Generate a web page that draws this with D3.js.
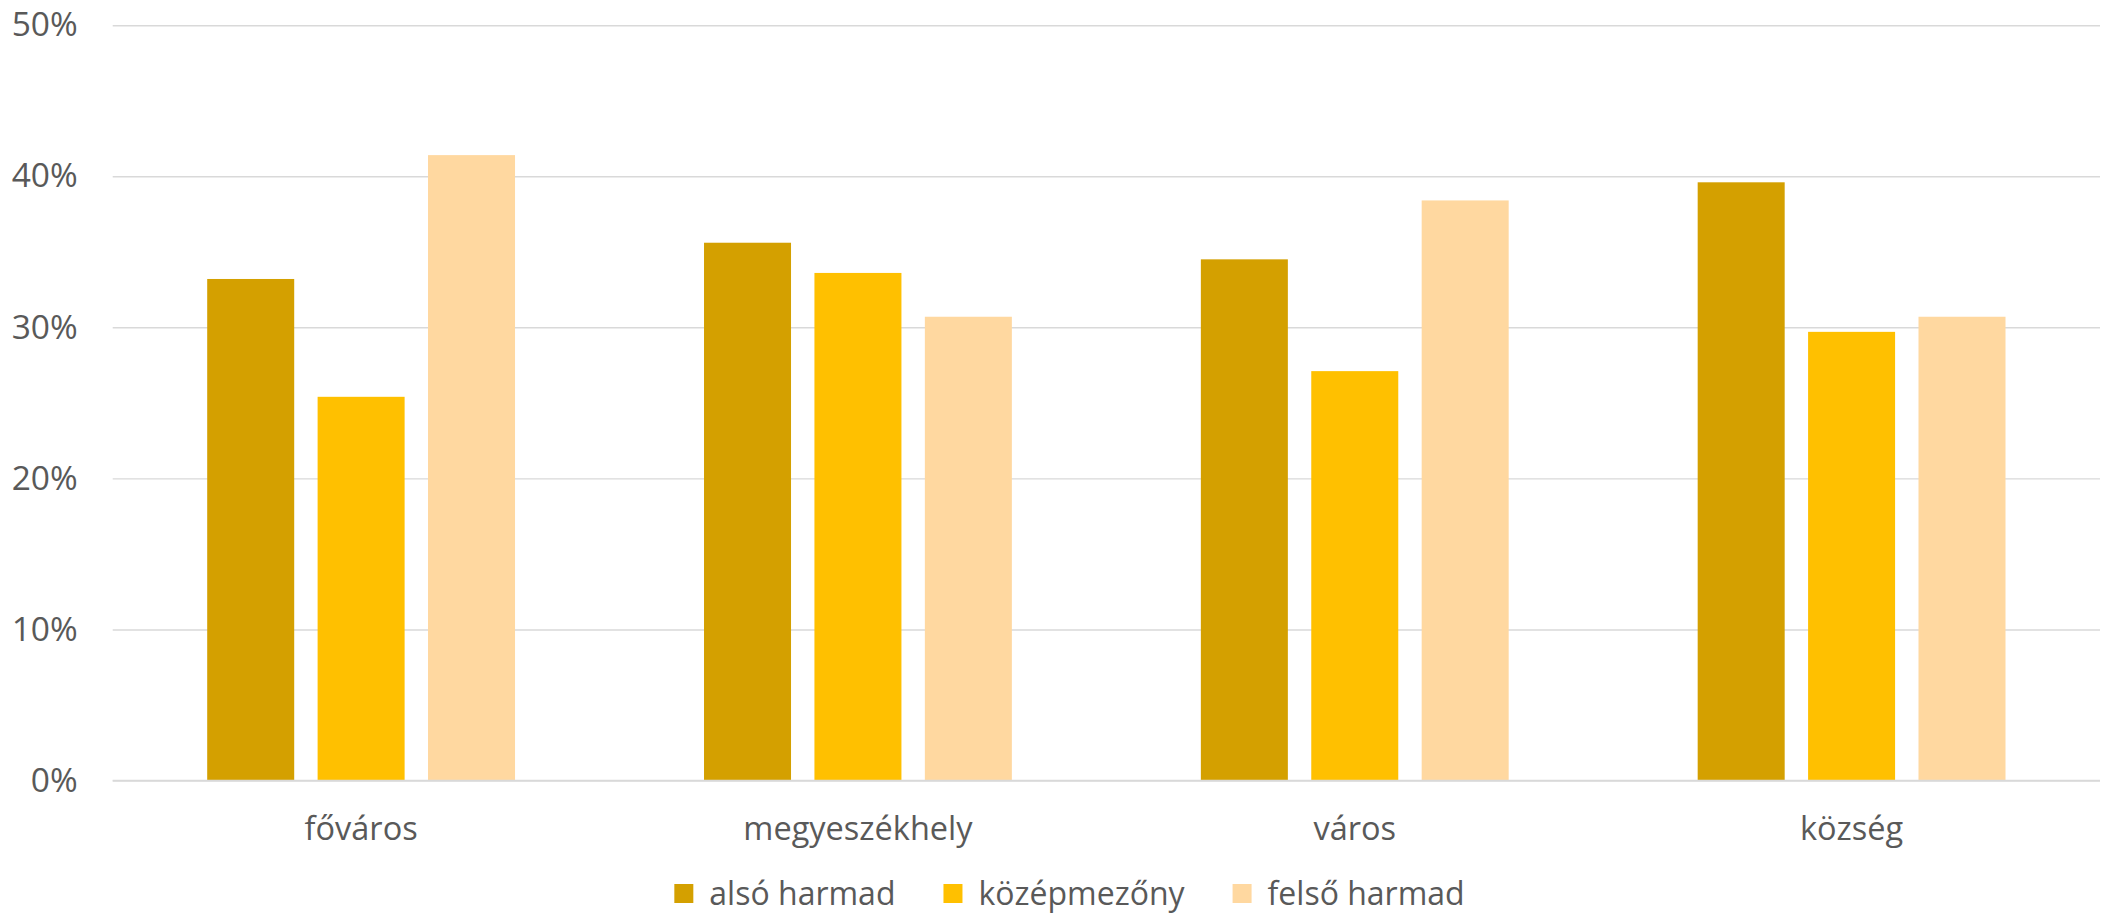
<!DOCTYPE html>
<html>
<head>
<meta charset="utf-8">
<script src="https://cdn.jsdelivr.net/npm/d3@7"></script>
<style>
  html, body { margin: 0; padding: 0; background: #fff; }
  svg { display: block; font-family: "Open Sans", sans-serif; }
</style>
</head>
<body>
<svg id="chart" width="2116" height="914"></svg>
<script>
const categories = ["főváros", "megyeszékhely", "város", "község"];
const seriesNames = ["alsó harmad", "középmezőny", "felső harmad"];
const alsoHarmad = [33.2, 35.6, 34.5, 39.6];
const kozepmezony = [25.4, 33.6, 27.1, 29.7];
const felsoHarmad = [41.4, 30.7, 38.4, 30.7];
const seriesColors = ["#D4A000", "#FFC000", "#FFD8A0"];
const yTicks = [0, 10, 20, 30, 40, 50];

(function () {
const seriesValues = [alsoHarmad, kozepmezony, felsoHarmad];
const data = categories.map((c, i) => ({
  cat: c,
  vals: seriesNames.map((s, j) => ({ s, j, v: seriesValues[j][i] }))
}));

const svg = d3.select("#chart");
const pLeft = 112.7, pRight = 2100, pTop = 25.2, pBottom = 780.5;

const y = d3.scaleLinear().domain([0, 50]).range([pBottom, pTop]);
const x0 = d3.scaleBand().domain(categories).range([pLeft, pRight]).padding(0);
const outer = 94.5;
const x1 = d3.scaleBand().domain(seriesNames)
  .range([outer, x0.bandwidth() - outer]).paddingInner(0.212).paddingOuter(0);

// gridlines
const yAxis = d3.axisLeft(y).tickValues(yTicks).tickSize(-(pRight - pLeft))
  .tickFormat(d => d + "%").tickPadding(35);
const gy = svg.append("g").attr("transform", `translate(${pLeft},0)`).call(yAxis);
gy.select(".domain").remove();
gy.selectAll(".tick line").attr("stroke", "#d9d9d9").attr("stroke-width", 1.4);
gy.selectAll(".tick text").attr("fill", "#595959").attr("font-size", 33.5)
  .attr("font-family", "'Open Sans', sans-serif");

// bars
const groups = svg.append("g").selectAll("g").data(data).join("g")
  .attr("transform", d => `translate(${x0(d.cat)},0)`);
groups.selectAll("rect").data(d => d.vals).join("rect")
  .attr("x", d => x1(d.s))
  .attr("width", x1.bandwidth())
  .attr("y", d => y(d.v))
  .attr("height", d => y(0) - y(d.v))
  .attr("fill", d => seriesColors[d.j]);

// baseline redraw
svg.append("line").attr("x1", pLeft).attr("x2", pRight).attr("y1", y(0)).attr("y2", y(0))
  .attr("stroke", "#d9d9d9").attr("stroke-width", 1.4);

// x axis labels
const xAxis = d3.axisBottom(x0).tickSize(0).tickPadding(0);
const gx = svg.append("g").attr("transform", `translate(0,${pBottom})`).call(xAxis);
gx.select(".domain").remove();
gx.selectAll(".tick text").attr("fill", "#595959").attr("font-size", 32.5)
  .attr("font-family", "'Open Sans', sans-serif").attr("dy", null).attr("y", 59);

// legend
const legend = svg.append("g");
const items = legend.selectAll("g").data(seriesNames).join("g");
items.append("rect").attr("width", 19).attr("height", 19).attr("y", 884)
  .attr("fill", (d, i) => seriesColors[i]);
items.append("text").text(d => d).attr("x", 35).attr("y", 905)
  .attr("fill", "#595959").attr("font-size", 32);
let widths = [];
items.each(function() { widths.push(this.querySelector("text").getComputedTextLength() + 35); });
const gap = 48;
const total = d3.sum(widths) + gap * (widths.length - 1);
let cx = 1069.5 - total / 2;
items.attr("transform", (d, i) => {
  const t = `translate(${cx},0)`;
  cx += widths[i] + gap;
  return t;
});
})();
</script>
</body>
</html>
